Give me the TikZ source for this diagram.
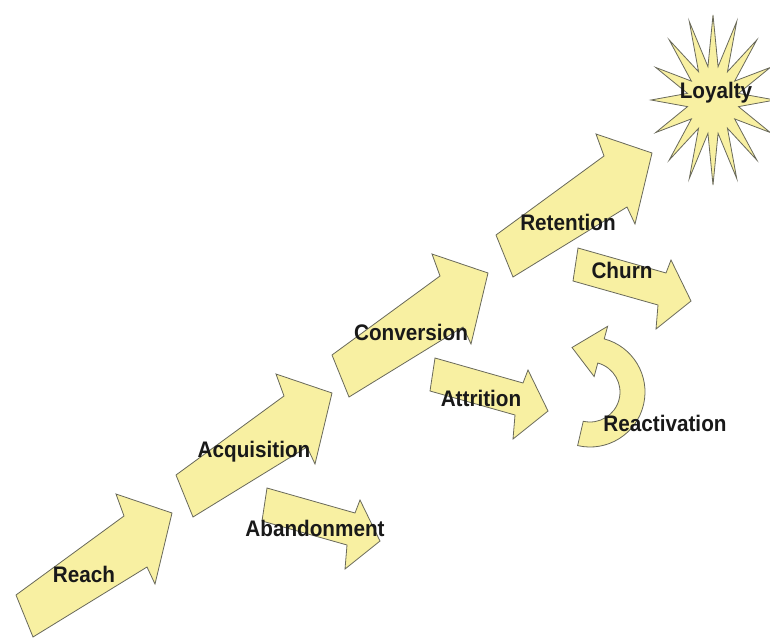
\documentclass[tikz,border=0pt]{standalone}
\usepackage{fontspec}
\setmainfont{Liberation Sans}[FakeStretch=0.92]
\definecolor{ayellow}{RGB}{248,240,162}
\definecolor{aedge}{RGB}{105,105,90}
\definecolor{atext}{RGB}{25,25,25}
\begin{document}
\begin{tikzpicture}[x=1pt,y=-1pt,
  blockarrow/.style={fill=ayellow, draw=aedge, line width=0.8pt, line join=miter},
  lbl/.style={font=\bfseries\fontsize{22.5}{26}\selectfont, text=atext, inner sep=0pt}]
\useasboundingbox (0,0) rectangle (770,642);
\clip (0,0) rectangle (770,642);
\fill[white] (0,0) rectangle (770,642);

% main ascending arrows
\foreach \dx/\dy in {0/0,160/-120,316/-240,480/-360}{
  \draw[blockarrow,shift={(\dx,\dy)}] (16,595) -- (124,516) -- (116,494) -- (172,513)
     -- (155,584) -- (147,567) -- (33,637) -- cycle;
}

% side arrows
\foreach \tx/\ty in {267/488,435/358,578/248}{
  \draw[blockarrow,shift={(\tx,\ty)}] (0,0) -- (88,25) -- (93,12) -- (113,53)
     -- (78,81) -- (80,57) -- (-5,33) -- cycle;
}

% reactivation curved arrow
\coordinate (rc) at (590,392);
\draw[blockarrow] ([shift={(rc)}]103:55) arc[start angle=103,end angle=-75,radius=55]
  -- ([shift={(rc)}]-75:68)
  -- ([shift={(rc)}]-112:48)
  -- ([shift={(rc)}]-75:16)
  -- ([shift={(rc)}]-75:30)
  arc[start angle=-75,end angle=103,radius=30]
  -- cycle;

% loyalty star
\draw[blockarrow] (775,100) \foreach \i in {0,...,15}{
  -- ({713+26*cos(\i*22.5+11.25)},{100+34*sin(\i*22.5+11.25)})
  -- ({713+62*cos((\i+1)*22.5)},{100+85*sin((\i+1)*22.5)}) } -- cycle;

% labels
\node[lbl] (reach) at (84,574) {Reach};
\node[lbl] (acq) at (254,452) {Acquisition};
\node[lbl] (aband) at (315,528) {Abandonment};
\node[lbl] (conv) at (411,332) {Conversion};
\node[lbl] (attr) at (481,398) {Attrition};
\node[lbl] (ret) at (568,222) {Retention};
\node[lbl] (churn) at (622,270) {Churn};
\node[lbl] (react) at (665,423) {Reactivation};
\node[lbl] (loyal) at (716,93) {Loyalty};
\end{tikzpicture}
\end{document}
